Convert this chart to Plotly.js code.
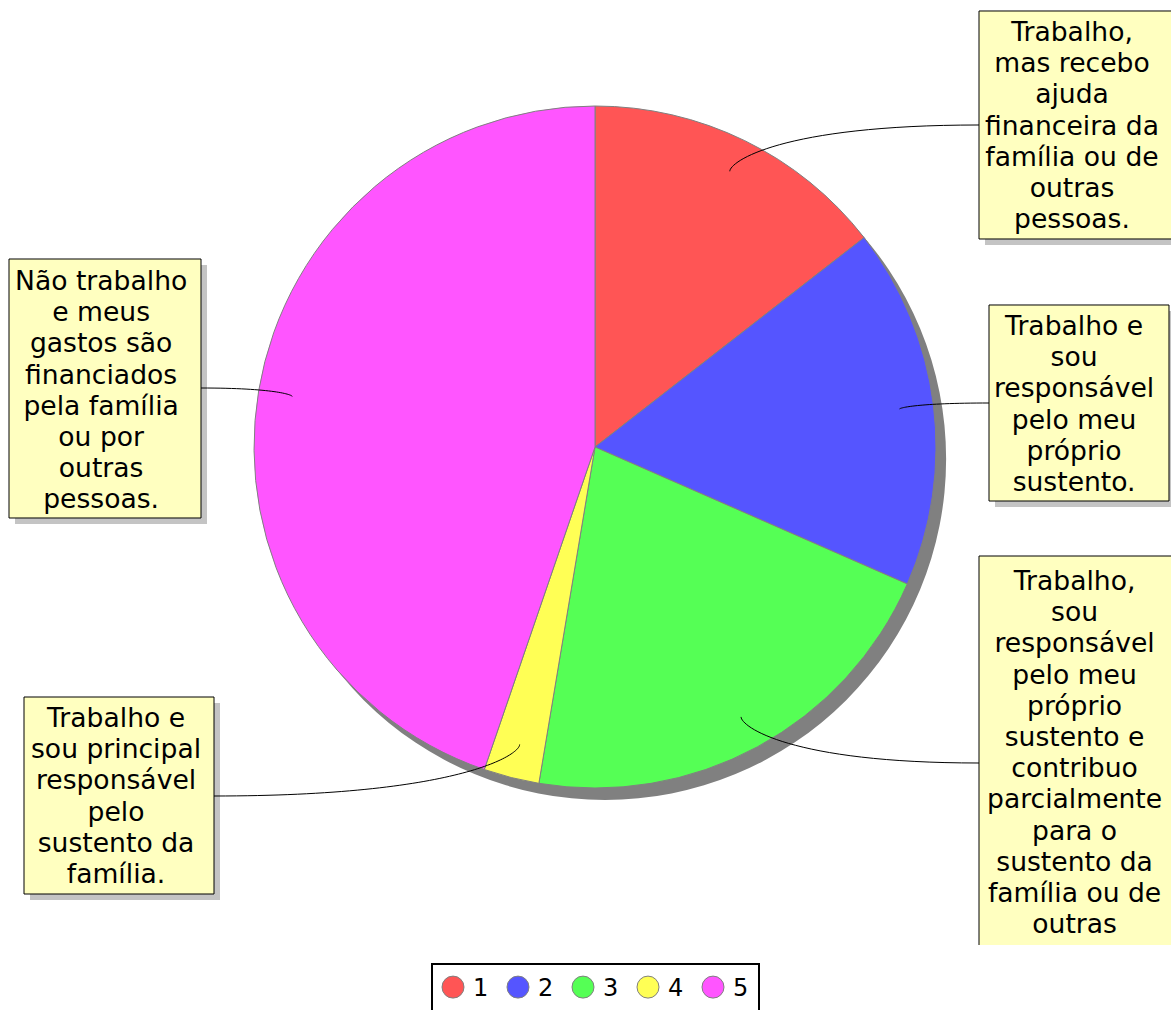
<!DOCTYPE html>
<html><head><meta charset="utf-8">
<script src="https://cdn.plot.ly/plotly-3.0.1.min.js"></script>
<style>html,body{margin:0;padding:0;overflow:hidden;background:#fff}#chart{width:1171px;height:1010px}</style>
</head><body><div id="chart"></div>
<script>
// ---- data ----
const labels = ['1', '2', '3', '4', '5'];
const values = [11, 13, 16, 2, 34];
const colors = ['#ff5555', '#5555ff', '#55ff55', '#ffff55', '#ff55ff'];
const descLines = [
  ['Trabalho,', 'mas recebo', 'ajuda', 'financeira da', 'família ou de', 'outras', 'pessoas.'],
  ['Trabalho e', 'sou', 'responsável', 'pelo meu', 'próprio', 'sustento.'],
  ['Trabalho,', 'sou', 'responsável', 'pelo meu', 'próprio', 'sustento e', 'contribuo', 'parcialmente', 'para o', 'sustento da', 'família ou de', 'outras', 'pessoas.'],
  ['Trabalho e', 'sou principal', 'responsável', 'pelo', 'sustento da', 'família.'],
  ['Não trabalho', 'e meus', 'gastos são', 'financiados', 'pela família', 'ou por', 'outras', 'pessoas.']
];

// ---- layout constants (pixels) ----
const W = 1171, H = 1010;
const FONT = 'DejaVu Sans, Verdana, sans-serif';
const CX = 595, CY = 447, R = 341;
const SH = {dx: 10, dy: 12};
// callout boxes: x0,y0,x1,y1, text centre, attach point, visible lines, open bottom
const boxes = [
  {x0: 979, y0: 11,  x1: 1176, y1: 239, tx: 1072, ty: 125, ax: 979, ay: 125, n: 7},
  {x0: 989, y0: 305, x1: 1169, y1: 501, tx: 1074, ty: 403, ax: 989, ay: 403, n: 6},
  {x0: 979, y0: 556, x1: 1176, y1: 945, tx: 1074, ty: 752, ax: 979, ay: 763, n: 12, open: true},
  {x0: 24,  y0: 697, x1: 214,  y1: 894, tx: 116, ty: 795, ax: 214, ay: 796, n: 6},
  {x0: 9,   y0: 259, x1: 201,  y1: 518, tx: 101, ty: 389, ax: 201, ay: 388, n: 8}
];

const px = x => x / W;
const py = y => 1 - y / H;
const P = (x, y) => px(x).toFixed(5) + ',' + py(y).toFixed(5);

const total = values.reduce((a, b) => a + b, 0);
let cum = 0;
const anchors = values.map(v => {
  const th = (cum + v / 2) / total * 2 * Math.PI;
  cum += v;
  return [CX + 0.9 * R * Math.sin(th), CY - 0.9 * R * Math.cos(th)];
});

const shapes = [];
const annotations = [];
boxes.forEach((b, i) => {
  // shadow
  shapes.push({type: 'rect', xref: 'paper', yref: 'paper', layer: 'above',
    x0: px(b.x0 + 6), x1: px(b.x1 + 6), y0: py(b.y1 + (b.open ? 0 : 6)), y1: py(b.y0 + 6),
    fillcolor: '#c4c4c4', line: {width: 0}});
  // fill
  shapes.push({type: 'rect', xref: 'paper', yref: 'paper', layer: 'above',
    x0: px(b.x0), x1: px(b.x1), y0: py(b.y1), y1: py(b.y0),
    fillcolor: '#ffffc0', line: {width: 0}});
  // border
  const border = b.open
    ? 'M' + P(b.x0, b.y1) + 'L' + P(b.x0, b.y0) + 'L' + P(b.x1, b.y0) + 'L' + P(b.x1, b.y1)
    : 'M' + P(b.x0, b.y1) + 'L' + P(b.x0, b.y0) + 'L' + P(b.x1, b.y0) + 'L' + P(b.x1, b.y1) + 'Z';
  shapes.push({type: 'path', xref: 'paper', yref: 'paper', layer: 'above',
    path: border, line: {color: '#000000', width: 1}});
  // connector
  const [ex, ey] = anchors[i];
  const c1x = ex + (b.ax - ex) * 0.2, c1y = b.ay;
  const c2x = ex, c2y = ey + (b.ay - ey) * 0.2;
  shapes.push({type: 'path', xref: 'paper', yref: 'paper', layer: 'above',
    path: 'M' + P(b.ax, b.ay) + 'C' + P(c1x, c1y) + ' ' + P(c2x, c2y) + ' ' + P(ex, ey),
    line: {color: '#000000', width: 1}});
  // text
  const lines = descLines[i].slice(0, b.n).map(s => '<span style="font-size:26.6px">' + s + '</span>');
  annotations.push({xref: 'paper', yref: 'paper', x: px(b.tx), y: py(b.ty),
    xanchor: 'center', yanchor: 'middle', showarrow: false, align: 'center',
    text: lines.join('<br>'), font: {family: FONT, size: 24, color: '#000'}});
});

const shadow = {
  type: 'pie', values: [1], labels: ['sombra'], showlegend: false, sort: false,
  marker: {colors: ['#808080'], line: {width: 0}}, textinfo: 'none', hoverinfo: 'skip',
  domain: {x: [px(CX - R + SH.dx), px(CX + R + SH.dx)], y: [py(CY + R + SH.dy), py(CY - R + SH.dy)]}
};
const pie = {
  type: 'pie', values: values, labels: labels, sort: false, direction: 'clockwise', rotation: 0,
  marker: {colors: colors, line: {color: '#808080', width: 1}}, textinfo: 'none',
  domain: {x: [px(CX - R), px(CX + R)], y: [py(CY + R), py(CY - R)]}
};

const layout = {
  width: W, height: H, margin: {l: 0, r: 0, t: 0, b: 0, autoexpand: false},
  paper_bgcolor: '#ffffff', font: {family: FONT, size: 24, color: '#000'},
  showlegend: true,
  legend: {orientation: 'h', x: px(431), xanchor: 'left', y: py(963), yanchor: 'top',
    entrywidth: 20, entrywidthmode: 'pixels',
    bordercolor: '#000000', borderwidth: 2, bgcolor: '#ffffff', font: {size: 24, family: FONT}},
  shapes: shapes, annotations: annotations
};

Plotly.newPlot('chart', [shadow, pie], layout, {displayModeBar: false, staticPlot: true}).then(gd => {
  const circ = 'M11,0A11,11 0 1,1 0,-11A11,11 0 0,1 11,0Z';
  gd.querySelectorAll('.legend .legendpoints path').forEach(p => {
    p.setAttribute('d', circ);
    p.style.stroke = '#808080';
    p.style.strokeWidth = '1px';
  });
});
</script></body></html>
